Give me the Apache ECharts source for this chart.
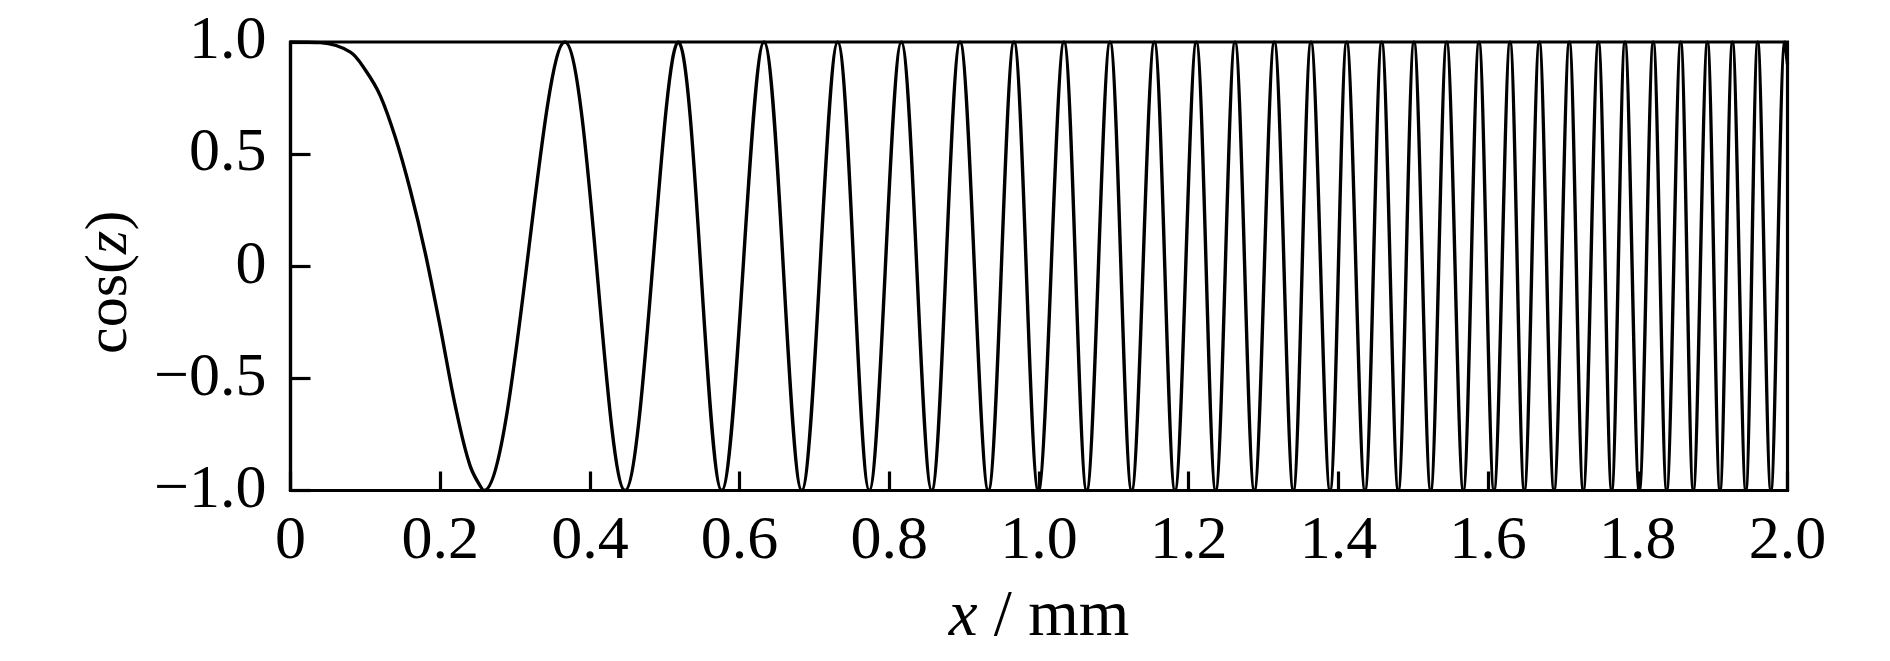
<!DOCTYPE html>
<html>
<head>
<meta charset="utf-8">
<script src="https://cdn.jsdelivr.net/npm/echarts@6/dist/echarts.min.js"></script>
<style>
  html, body { margin: 0; padding: 0; background: #fff; }
  #chart { width: 1890px; height: 661px; }
</style>
</head>
<body>
<div id="chart"></div>
<script>
const xPoints = [
  0, 0.04, 0.08, 0.10, 0.12, 0.14, 0.16, 0.18, 0.20, 0.22, 0.24, 0.2585,
  0.3665, 0.4469,
  0.5181, 0.5761, 0.6326, 0.6830, 0.7311, 0.7733, 0.8161, 0.8566, 0.8945, 0.9323, 0.9666,
  0.9991, 1.0334, 1.0637, 1.0949, 1.1238, 1.1541, 1.1817, 1.2102, 1.2360, 1.2619, 1.2877,
  1.3144, 1.3398, 1.3634, 1.3888, 1.4111, 1.4355, 1.4579, 1.4800, 1.5010, 1.5233, 1.5447,
  1.5669, 1.5878, 1.6079, 1.6293, 1.6484, 1.6684, 1.6881, 1.7085, 1.7272, 1.7473, 1.7651,
  1.7829, 1.8020, 1.8207, 1.8386, 1.8573, 1.8742, 1.8930, 1.9098, 1.9265, 1.9443, 1.9602,
  1.9778, 1.9965, 2.0
];
const cosValues = [
  1, 0.997, 0.955, 0.875, 0.76, 0.575, 0.34, 0.06, -0.27, -0.62, -0.89, -1,
  1, -1,
  1, -1, 1, -1, 1, -1, 1, -1, 1, -1, 1,
  -1, 1, -1, 1, -1, 1, -1, 1, -1, 1, -1,
  1, -1, 1, -1, 1, -1, 1, -1, 1, -1, 1,
  -1, 1, -1, 1, -1, 1, -1, 1, -1, 1, -1,
  1, -1, 1, -1, 1, -1, 1, -1, 1, -1, 1,
  -1, 1, 0.9
];
const xTicks = [0, 0.2, 0.4, 0.6, 0.8, 1.0, 1.2, 1.4, 1.6, 1.8, 2.0];
const yTicks = [-1.0, -0.5, 0, 0.5, 1.0];
const xTickLabels = ['0', '0.2', '0.4', '0.6', '0.8', '1.0', '1.2', '1.4', '1.6', '1.8', '2.0'];
const yTickLabels = ['\u22121.0', '\u22120.5', '0', '0.5', '1.0'];

const seriesData = xPoints.map((x, i) => [x, cosValues[i]]);
const FONT = '"Liberation Serif", "Times New Roman", serif';

function labelFor(ticks, labels) {
  return function (v) {
    for (let i = 0; i < ticks.length; i++) {
      if (Math.abs(ticks[i] - v) < 1e-6) return labels[i];
    }
    return '';
  };
}

const chart = echarts.init(document.getElementById('chart'), null, { renderer: 'canvas' });
chart.setOption({
  animation: false,
  backgroundColor: '#ffffff',
  grid: {
    left: 290.5, right: 102.5, top: 42, bottom: 170.5,
    show: true, borderColor: '#000', borderWidth: 3.2, backgroundColor: 'transparent'
  },
  xAxis: {
    type: 'value', min: 0, max: 2, interval: 0.2,
    axisLine: { show: true, onZero: false, lineStyle: { color: '#000', width: 3.2 } },
    axisTick: { show: true, inside: true, length: 19, lineStyle: { color: '#000', width: 3.2 } },
    splitLine: { show: false },
    axisLabel: {
      color: '#000', fontFamily: FONT, fontSize: 62, margin: 20,
      formatter: labelFor(xTicks, xTickLabels)
    },
    name: '{i|x} / mm',
    nameLocation: 'middle',
    nameGap: 95,
    nameTextStyle: {
      color: '#000', fontFamily: FONT, fontSize: 65,
      rich: { i: { fontFamily: FONT, fontSize: 65, fontStyle: 'italic', color: '#000' } }
    }
  },
  yAxis: {
    type: 'value', min: -1, max: 1, interval: 0.5,
    axisLine: { show: true, onZero: false, lineStyle: { color: '#000', width: 3.2 } },
    axisTick: { show: true, inside: true, length: 20, lineStyle: { color: '#000', width: 3.2 } },
    splitLine: { show: false },
    axisLabel: {
      color: '#000', fontFamily: FONT, fontSize: 62, margin: 24,
      formatter: labelFor(yTicks, yTickLabels)
    },
    name: 'cos({i|z})',
    nameLocation: 'middle',
    nameGap: 150,
    nameTextStyle: {
      color: '#000', fontFamily: FONT, fontSize: 60,
      padding: [0, 32, 0, 0],
      rich: { i: { fontFamily: FONT, fontSize: 60, fontStyle: 'italic', color: '#000' } }
    }
  },
  series: [{
    type: 'line',
    data: seriesData,
    showSymbol: false,
    smooth: 0.33,
    lineStyle: { color: '#000', width: 3.4 },
    clip: true
  }]
});
</script>
</body>
</html>
